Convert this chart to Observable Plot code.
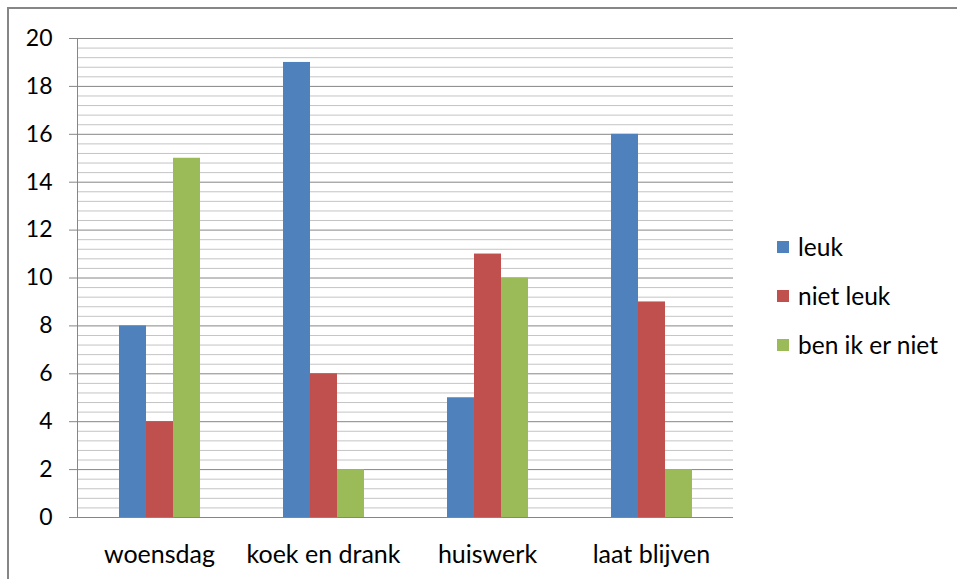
<!DOCTYPE html>
<html><head><meta charset="utf-8">
<script src="https://cdn.jsdelivr.net/npm/d3@7"></script>
<script src="https://cdn.jsdelivr.net/npm/@observablehq/plot@0.6"></script>
<style>
body{margin:0;background:#fff;}
#wrap{position:relative;width:957px;height:579px;overflow:hidden;font-family:Lato,sans-serif;color:#000;}
#border{position:absolute;left:7px;top:7px;width:1000px;height:1000px;border:2px solid #868686;box-sizing:border-box;}
#chart{position:absolute;left:0;top:0;}
#legend{position:absolute;left:777px;top:222px;font-size:24.5px;}
#legend .item{height:49px;display:flex;align-items:center;}
#legend .sw{width:12px;height:12px;margin-right:9px;}
</style></head>
<body><div id="wrap"><div id="border"></div><div id="chart"></div><div id="legend"></div></div>
<script>
const categories = ["woensdag", "koek en drank", "huiswerk", "laat blijven"];
const series = ["leuk", "niet leuk", "ben ik er niet"];
const leuk = [8, 19, 5, 16];
const nietLeuk = [4, 6, 11, 9];
const benIkErNiet = [15, 2, 10, 2];
const colors = ["#4F81BD", "#C0504D", "#9BBB59"];
const yTicks = [0, 2, 4, 6, 8, 10, 12, 14, 16, 18, 20];
const minorStep = 0.4;

const values = [leuk, nietLeuk, benIkErNiet];
const data = categories.flatMap((c, i) => series.map((s, j) => ({category: c, series: s, value: values[j][i]})));
const minor = d3.range(0, 51).map(i => +(i * minorStep).toFixed(2)).filter(v => !yTicks.includes(v));

const chart = Plot.plot({
  width: 957, height: 579,
  marginLeft: 76, marginRight: 223, marginTop: 38, marginBottom: 62,
  style: {fontFamily: "Lato, sans-serif", fontSize: "23px", color: "#000", background: "transparent", overflow: "visible"},
  fx: {domain: categories, padding: 0, label: null, axis: null},
  x: {domain: series, paddingInner: 0, paddingOuter: 1.5, axis: null},
  y: {domain: [0, 20], axis: null},
  color: {domain: series, range: colors},
  marks: [
    Plot.ruleY(minor, {stroke: "#c4c4c4", strokeWidth: 1, strokeOpacity: 1}),
    Plot.ruleY(yTicks, {stroke: "#868686", strokeWidth: 1, strokeOpacity: 1}),
    Plot.barY(data, {fx: "category", x: "series", y: "value", fill: "series"}),
    Plot.axisY({ticks: yTicks, tickSize: 8, tickPadding: 17, stroke: "#868686", strokeOpacity: 1, label: null, fontSize: 23}),
    Plot.axisFx({anchor: "bottom", tickSize: 0, tickPadding: 28, label: null, fontSize: 25}),
    Plot.frame({anchor: "left", stroke: "#868686", strokeOpacity: 1, facetAnchor: "left"})
  ]
});
document.getElementById("chart").appendChild(chart);

const legend = document.getElementById("legend");
series.forEach((s, i) => {
  const item = document.createElement("div");
  item.className = "item";
  const sw = document.createElement("span");
  sw.className = "sw";
  sw.style.background = colors[i];
  const t = document.createElement("span");
  t.textContent = s;
  item.appendChild(sw); item.appendChild(t);
  legend.appendChild(item);
});
</script></body></html>
